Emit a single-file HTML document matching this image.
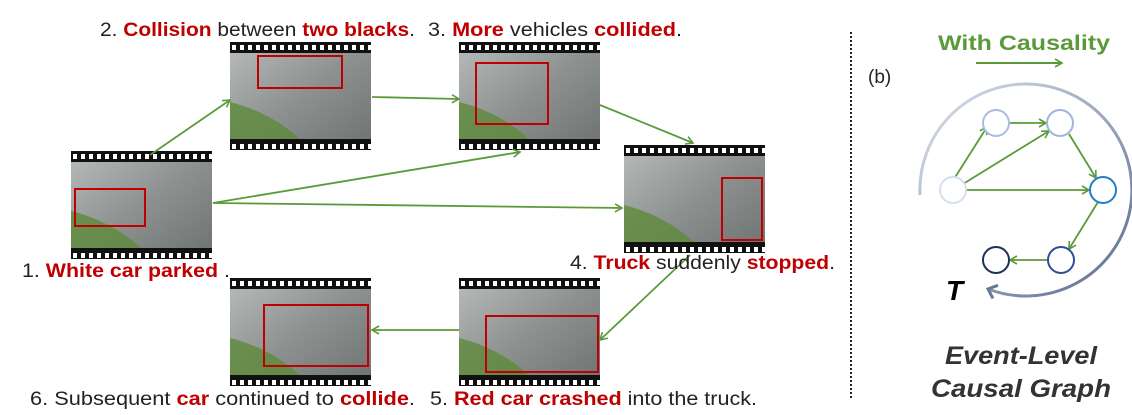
<!DOCTYPE html>
<html><head><meta charset="utf-8"><style>
body{margin:0;width:1132px;height:410px;background:#fff;overflow:hidden}
svg text{font-family:"Liberation Sans",sans-serif}
</style></head><body>
<svg width="1132" height="410" viewBox="0 0 1132 410" xmlns="http://www.w3.org/2000/svg">
<defs>
<pattern id="sp" width="8" height="11" patternUnits="userSpaceOnUse"><rect width="8" height="11" fill="#111"/><rect x="2" y="3" width="4" height="5" fill="#fff"/></pattern>
<linearGradient id="road" x1="0" y1="0" x2="1" y2="1"><stop offset="0" stop-color="#b8bcbc"/><stop offset="0.5" stop-color="#8d9291"/><stop offset="1" stop-color="#6d7270"/></linearGradient>
<linearGradient id="arc" x1="0" y1="0" x2="1" y2="1"><stop offset="0" stop-color="#dde3ee"/><stop offset="1" stop-color="#5b6a90"/></linearGradient>
<marker id="ah" markerWidth="10" markerHeight="10" refX="8" refY="5" orient="auto" markerUnits="userSpaceOnUse"><path d="M1,1 L8,5 L1,9" fill="none" stroke="#5b9a3a" stroke-width="1.6"/></marker>
<marker id="ah2" markerWidth="16" markerHeight="16" refX="11" refY="8" orient="auto" markerUnits="userSpaceOnUse"><path d="M3,1 L11,8 L3,15" fill="none" stroke="#6a7898" stroke-width="3"/></marker>
<g id="film"><rect width="141" height="108" fill="url(#road)"/><rect width="141" height="11" fill="url(#sp)"/><rect y="97" width="141" height="11" fill="url(#sp)"/><path d="M0,60 Q40,70 70,97 L0,97Z" fill="#5d8a3a" opacity="0.8"/></g>
</defs>
<use href="#film" x="71" y="151"/>
<use href="#film" x="230" y="42"/>
<use href="#film" x="459" y="42"/>
<use href="#film" x="624" y="145"/>
<use href="#film" x="459" y="278"/>
<use href="#film" x="230" y="278"/>
<g fill="none" stroke="#c00000" stroke-width="2">
<rect x="75" y="189" width="70" height="37"/><rect x="258" y="56" width="84" height="32"/><rect x="476" y="63" width="72" height="61"/><rect x="722" y="178" width="40" height="62"/><rect x="486" y="316" width="112" height="56"/><rect x="264" y="305" width="104" height="61"/>
</g>
<g stroke="#5b9a3a" stroke-width="1.8" fill="none" marker-end="url(#ah)">
<line x1="150" y1="155" x2="230" y2="100"/><line x1="372" y1="97" x2="459" y2="99"/><line x1="600" y1="105" x2="693" y2="143"/>
<line x1="213" y1="203" x2="520" y2="152"/><line x1="213" y1="203" x2="622" y2="208"/><line x1="690" y1="255" x2="600" y2="340"/><line x1="459" y1="330" x2="372" y2="330"/>
</g>
<g font-size="19" fill="#222">
<text x="100" y="36" textLength="315" lengthAdjust="spacingAndGlyphs">2. <tspan fill="#c00000" font-weight="bold">Collision</tspan> between <tspan fill="#c00000" font-weight="bold">two blacks</tspan>.</text>
<text x="428" y="36" textLength="254" lengthAdjust="spacingAndGlyphs">3. <tspan fill="#c00000" font-weight="bold">More</tspan> vehicles <tspan fill="#c00000" font-weight="bold">collided</tspan>.</text>
<text x="22" y="277" textLength="208" lengthAdjust="spacingAndGlyphs">1. <tspan fill="#c00000" font-weight="bold">White car parked</tspan> .</text>
<text x="570" y="269" textLength="265" lengthAdjust="spacingAndGlyphs">4. <tspan fill="#c00000" font-weight="bold">Truck</tspan> suddenly <tspan fill="#c00000" font-weight="bold">stopped</tspan>.</text>
<text x="30" y="405" textLength="385" lengthAdjust="spacingAndGlyphs">6. Subsequent <tspan fill="#c00000" font-weight="bold">car</tspan> continued to <tspan fill="#c00000" font-weight="bold">collide</tspan>.</text>
<text x="430" y="405" textLength="327" lengthAdjust="spacingAndGlyphs">5. <tspan fill="#c00000" font-weight="bold">Red car crashed</tspan> into the truck.</text>
</g>
<line x1="851" y1="32" x2="851" y2="400" stroke="#222" stroke-width="2" stroke-dasharray="2,2"/>
<text x="938" y="50" font-size="21" font-weight="bold" fill="#5b9a3a" textLength="172" lengthAdjust="spacingAndGlyphs">With Causality</text>
<line x1="976" y1="63" x2="1062" y2="63" stroke="#5b9a3a" stroke-width="2" marker-end="url(#ah)"/>
<text x="868" y="83" font-size="19" fill="#222">(b)</text>
<path d="M920,195 A106,106 0 1 1 988,289" fill="none" stroke="url(#arc)" stroke-width="3" marker-end="url(#ah2)"/>
<g stroke="#5b9a3a" stroke-width="1.8" fill="none" marker-end="url(#ah)">
<line x1="954" y1="179" x2="987" y2="127"/><line x1="1009" y1="123" x2="1046" y2="123"/><line x1="963" y1="184" x2="1049" y2="131"/>
<line x1="966" y1="190" x2="1089" y2="190"/><line x1="1069" y1="134" x2="1096" y2="178"/><line x1="1098" y1="202" x2="1069" y2="249"/><line x1="1048" y1="260" x2="1010" y2="260"/>
</g>
<g fill="#fff" stroke-width="2">
<circle cx="953" cy="190" r="13" stroke="#d5dff0"/><circle cx="996" cy="123" r="13" stroke="#a9bde3"/><circle cx="1060" cy="123" r="13" stroke="#a0b4de"/>
<circle cx="1103" cy="190" r="13" stroke="#1f7fc8"/><circle cx="1061" cy="260" r="13" stroke="#2e4f95"/><circle cx="996" cy="260" r="13" stroke="#1f2e5a"/>
</g>
<text x="946" y="300" font-size="28" font-weight="bold" font-style="italic" fill="#000">T</text>
<text x="1021" y="364" font-size="25" font-weight="bold" font-style="italic" fill="#333" text-anchor="middle" textLength="152" lengthAdjust="spacingAndGlyphs">Event-Level</text>
<text x="1021" y="397" font-size="25" font-weight="bold" font-style="italic" fill="#333" text-anchor="middle" textLength="180" lengthAdjust="spacingAndGlyphs">Causal Graph</text>
</svg>
</body></html>
